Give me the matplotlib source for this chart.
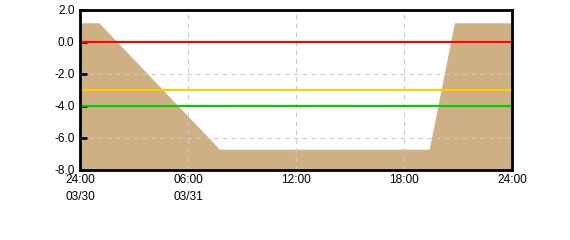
import matplotlib
matplotlib.use('Agg')
import matplotlib.pyplot as plt

# level curve (hours since 03/30 24:00)
hours = [0, 1.05, 7.75, 19.4, 20.8, 24]
level = [1.2, 1.2, -6.7, -6.7, 1.2, 1.2]

# reference lines
ref_values = [0.0, -3.0, -4.0]
ref_colors = ['#ff0000', '#ffcc00', '#00cc00']

x_ticks = [0, 6, 12, 18, 24]
x_labels = ['24:00\n03/30', '06:00\n03/31', '12:00', '18:00', '24:00']
y_ticks = [2.0, 0.0, -2.0, -4.0, -6.0, -8.0]

plt.rcParams['font.family'] = 'Liberation Sans'
plt.rcParams['font.size'] = 8.6

fig = plt.figure(figsize=(5.7, 2.4), dpi=100)
ax = fig.add_axes([80 / 570, 70 / 240, 432 / 570, 160 / 240])

ax.fill_between(hours, level, -8, color='#cfb084', linewidth=0, zorder=1)

for v, c in zip(ref_values, ref_colors):
    ax.axhline(v, color=c, linewidth=1.5, zorder=3)

ax.set_xlim(0, 24)
ax.set_ylim(-8, 2)
ax.set_xticks(x_ticks)
ax.set_xticklabels(x_labels, linespacing=1.5)
ax.set_yticks(y_ticks)
ax.set_yticklabels(['%.1f' % v for v in y_ticks])

ax.grid(True, color='#c8c8c8', linestyle=(0, (4, 4)), linewidth=0.8, zorder=2)
ax.set_axisbelow(False)

for s in ax.spines.values():
    s.set_linewidth(2)
    s.set_color('black')
    s.set_zorder(4)

ax.tick_params(axis='y', direction='in', length=5, width=2, pad=4)
ax.tick_params(axis='x', length=0, pad=3)

fig.savefig('out.png', dpi=100)
